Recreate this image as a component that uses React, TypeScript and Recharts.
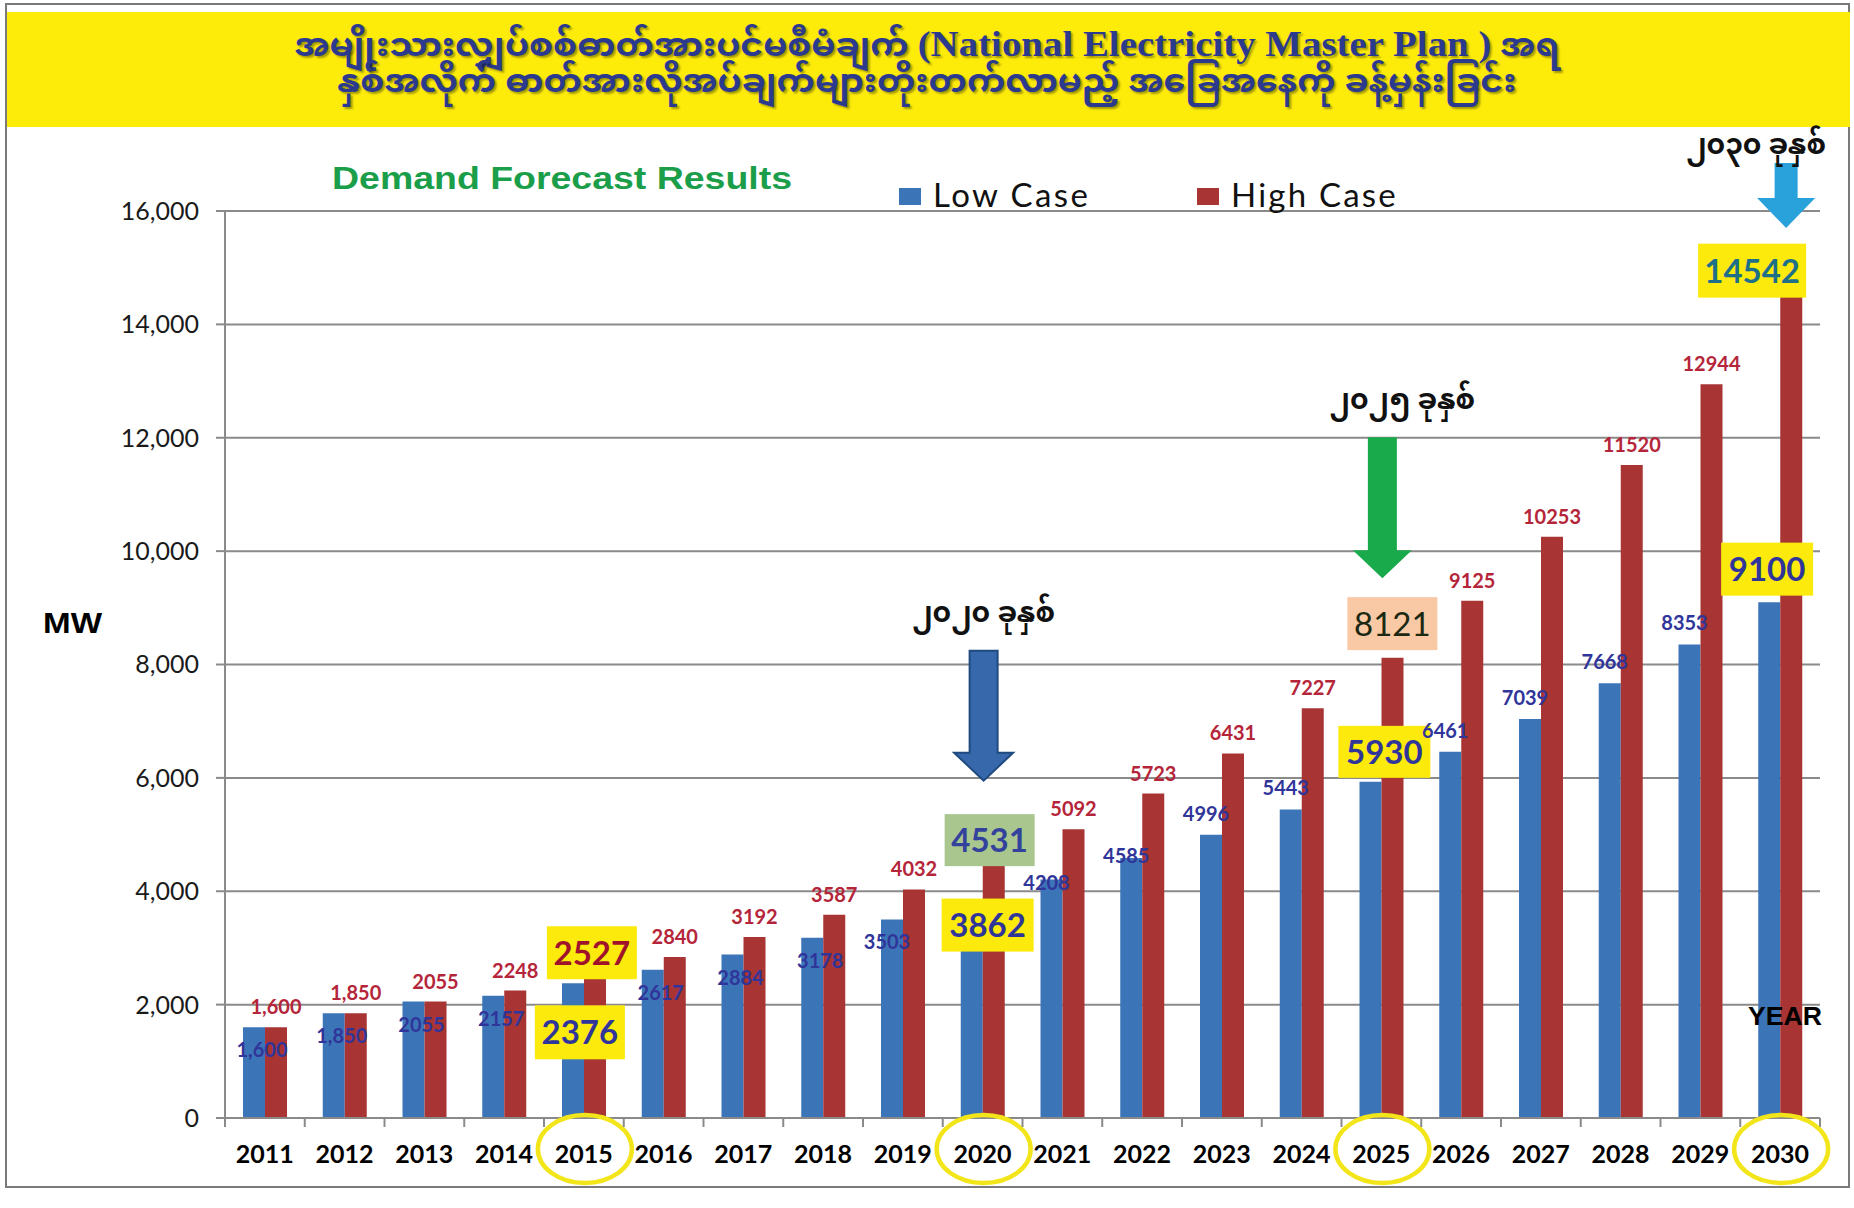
import React from 'react';
import { BarChart, Bar, XAxis, YAxis, CartesianGrid, LabelList, ReferenceDot, Legend } from 'recharts';

// ---------- data ----------
const years = ['2011', '2012', '2013', '2014', '2015', '2016', '2017', '2018', '2019', '2020',
  '2021', '2022', '2023', '2024', '2025', '2026', '2027', '2028', '2029', '2030'];
const lowCase = [1600, 1850, 2055, 2157, 2376, 2617, 2884, 3178, 3503, 3862,
  4208, 4585, 4996, 5443, 5930, 6461, 7039, 7668, 8353, 9100];
const highCase = [1600, 1850, 2055, 2248, 2527, 2840, 3192, 3587, 4032, 4531,
  5092, 5723, 6431, 7227, 8121, 9125, 10253, 11520, 12944, 14542];
const yTicks = [0, 2000, 4000, 6000, 8000, 10000, 12000, 14000, 16000];
const highlightYears = ['2015', '2020', '2025', '2030'];
const seriesNames = { low: 'Low Case', high: 'High Case' };
const titleLine1 = ['အမျိုးသားလျှပ်စစ်ဓာတ်အားပင်မစီမံချက် ', '(National Electricity Master Plan )', ' အရ'];
const titleLine2 = 'နှစ်အလိုက် ဓာတ်အားလိုအပ်ချက်များတိုးတက်လာမည့် အခြေအနေကို ခန့်မှန်းခြင်း';
const chartTitle = 'Demand Forecast Results';

const data = years.map((y, i) => ({ year: y, low: lowCase[i], high: highCase[i] }));

// ---------- style ----------
const W = 1854;
const H = 1208;
const PLOT_LEFT = 225;
const PLOT_RIGHT = 1820;
const BAND = (PLOT_RIGHT - PLOT_LEFT) / years.length;
const BLUE = '#3c74b8';
const RED = '#a83434';
const NAVY = '#30359a';
const CRIMSON = '#b5253a';
const YELLOW = '#fbea0c';
const GRID = '#8a8a8a';
const SANS = 'Lato, "Open Sans", "Liberation Sans", sans-serif';
const ARIAL = '"Liberation Sans", Arial, sans-serif';
const MYAN = '"Noto Sans Myanmar", "Noto Serif Myanmar", Padauk, "Myanmar Text", Myanmar3, "Liberation Serif", serif';
const SERIF = '"Liberation Serif", "Times New Roman", serif';

const fmt = (v: number, i: number) => (i < 2 ? v.toLocaleString('en-US') : String(v));

const callouts = [
  { year: '2015', key: 'high', bg: YELLOW, color: '#a0122a', dx: 8, dy: -22, w: 90, h: 53, weight: 'bold' },
  { year: '2015', key: 'low', bg: YELLOW, color: NAVY, dx: -4, dy: 49, w: 90, h: 54, weight: 'bold' },
  { year: '2020', key: 'high', bg: '#a9c68e', color: '#33429c', dx: 7, dy: -21, w: 90, h: 52, weight: 'bold' },
  { year: '2020', key: 'low', bg: YELLOW, color: NAVY, dx: 5, dy: 26, w: 92, h: 53, weight: 'bold' },
  { year: '2025', key: 'high', bg: '#f8c9a4', color: '#1c2812', dx: 11, dy: -34, w: 90, h: 53, weight: 'normal' },
  { year: '2025', key: 'low', bg: YELLOW, color: NAVY, dx: 3, dy: -30, w: 92, h: 52, weight: 'bold' },
  { year: '2030', key: 'high', bg: YELLOW, color: '#1d7088', dx: -28, dy: -23, w: 108, h: 54, weight: 'bold' },
  { year: '2030', key: 'low', bg: YELLOW, color: NAVY, dx: -13, dy: -33, w: 92, h: 53, weight: 'bold' },
];

const arrows = [
  { year: '2020', tip: 5950, len: 130, head: 28, shaft: 28, headW: 59, fill: '#3868ac', stroke: '#1f4a80', dx: 1, label: '၂၀၂၀ ခုနှစ်', lx: 0, ly: -169 },
  { year: '2025', tip: 9520, len: 141, head: 28, shaft: 29, headW: 59, fill: '#19aa4b', stroke: 'none', dx: 1, label: '၂၀၂၅ ခုနှစ်', lx: 20, ly: -179 },
  { year: '2030', tip: 15700, len: 65, head: 30, shaft: 23, headW: 58, fill: '#29a2dc', stroke: 'none', dx: 6, label: '၂၀၃၀ ခုနှစ်', lx: -30, ly: -84 },
];

// ---------- renderers ----------
const LowLabel = (p: any) => {
  const { x, y, width, value, index } = p;
  if (highlightYears.includes(years[index])) return null;
  const dx = index < 8 ? 8 : -5;
  const dy = index < 10 ? 23 : index === 10 ? 4 : index === 11 ? -2 : -21;
  return (
    <text x={x + width / 2 + dx} y={y + dy + 7} textAnchor="middle" fill={NAVY}
      fontFamily={SANS} fontWeight="bold" fontSize={20}>{fmt(value, index)}</text>
  );
};

const HighLabel = (p: any) => {
  const { x, y, width, value, index } = p;
  if (highlightYears.includes(years[index])) return null;
  return (
    <text x={x + width / 2} y={y - 13} textAnchor="middle" fill={CRIMSON}
      fontFamily={SANS} fontWeight="bold" fontSize={20}>{fmt(value, index)}</text>
  );
};

const XTick = (p: any) => {
  const { x, y, payload, index } = p;
  const hl = highlightYears.includes(payload.value);
  return (
    <g>
      <line x1={x - BAND / 2} x2={x - BAND / 2} y1={y} y2={y + 9} stroke={GRID} strokeWidth={2} />
      {index === years.length - 1 && (
        <line x1={x + BAND / 2} x2={x + BAND / 2} y1={y} y2={y + 9} stroke={GRID} strokeWidth={2} />
      )}
      <text x={x} y={y + 45} textAnchor="middle" fill="#000" fontFamily={SANS} fontWeight="bold" fontSize={25}>
        {payload.value}
      </text>
      {hl && <ellipse cx={x + 1} cy={y + 31} rx={47} ry={34} fill="none" stroke="#f2e51a" strokeWidth={4.5} />}
    </g>
  );
};

const makeCallout = (c: any, text: string) => (p: any) => {
  const { cx, cy } = p;
  const bx = cx + c.dx;
  const by = cy + c.dy;
  return (
    <g>
      <rect x={bx - c.w / 2} y={by - c.h / 2} width={c.w} height={c.h} fill={c.bg} />
      <text x={bx} y={by + 12} textAnchor="middle" fill={c.color} fontFamily={SANS}
        fontWeight={c.weight} fontSize={33}>{text}</text>
    </g>
  );
};

const makeArrow = (a: any) => (p: any) => {
  const { cx, cy } = p;
  const x = cx + a.dx;
  const tip = cy;
  const base = tip - a.head;
  const top = tip - a.len;
  const pts = [
    [x - a.shaft / 2, top], [x + a.shaft / 2, top], [x + a.shaft / 2, base], [x + a.headW / 2, base],
    [x, tip], [x - a.headW / 2, base], [x - a.shaft / 2, base],
  ].map((q) => q.join(',')).join(' ');
  return (
    <g>
      <polygon points={pts} fill={a.fill} stroke={a.stroke} strokeWidth={2} />
      <text x={x + a.lx} y={tip + a.ly + 10} textAnchor="middle" fill="#111" fontFamily={MYAN}
        fontWeight="bold" fontSize={28}>{a.label}</text>
    </g>
  );
};

const legendOrder = [seriesNames.low, seriesNames.high];
const LegendContent = (p: any) => {
  const raw = p.payload || [];
  const items = legendOrder.map((n) => raw.find((it: any) => it.value === n)).filter(Boolean);
  const pos = [{ sx: 899, tx: 933, ls: 2.4 }, { sx: 1197, tx: 1231, ls: 2.2 }];
  return (
    <svg width={W} height={80} style={{ display: 'block', overflow: 'visible' }}>
      {items.map((it: any, i: number) => (
        <g key={i}>
          <rect x={pos[i].sx} y={28} width={22} height={17} fill={it.color} />
          <text x={pos[i].tx} y={47} fill="#111" fontFamily={SANS} fontSize={33}
            letterSpacing={pos[i].ls}>{it.value}</text>
        </g>
      ))}
    </svg>
  );
};

const titleStyle: React.CSSProperties = {
  position: 'absolute', left: 0, width: W, height: 40, lineHeight: '40px',
  textAlign: 'center', fontFamily: MYAN, fontWeight: 'bold', fontSize: 32, color: '#2c3a8e',
  textShadow: '2px 2px 2px rgba(0,0,0,0.35)', whiteSpace: 'nowrap',
  transform: 'scaleX(1.08)', transformOrigin: '50% 50%',
};

export default function App() {
  return (
    <div style={{ position: 'absolute', left: 0, top: 0, width: W, height: H, background: '#fff', overflow: 'hidden' }}>
      <div style={{ position: 'absolute', left: 5, top: 3, width: 1845, height: 1185, border: '2px solid #7a7a7a', boxSizing: 'border-box' }} />
      <div style={{ position: 'absolute', left: 7, top: 12, width: 1843, height: 115, background: '#fdec0a' }} />
      <div style={{ ...titleStyle, top: 24 }}>
        {titleLine1[0]}
        <span style={{ fontFamily: SERIF, fontSize: 36, lineHeight: '40px' }}>{titleLine1[1]}</span>
        {titleLine1[2]}
      </div>
      <div style={{ ...titleStyle, top: 65 }}>{titleLine2}</div>
      <div style={{ position: 'absolute', left: 0, top: 0 }}>
        <BarChart width={W} height={H} data={data} margin={{ top: 211, right: W - PLOT_RIGHT, bottom: 0, left: 0 }}
          barGap={0} barSize={22}>
          <CartesianGrid vertical={false} stroke={GRID} strokeWidth={2} />
          <XAxis dataKey="year" height={90} interval={0} tickLine={false} tickSize={0} tickMargin={0}
            axisLine={{ stroke: GRID, strokeWidth: 2 }} tick={<XTick />} />
          <YAxis width={PLOT_LEFT} domain={[0, 16000]} ticks={yTicks} tickSize={9} tickMargin={17}
            axisLine={{ stroke: GRID, strokeWidth: 2 }} tickLine={{ stroke: GRID, strokeWidth: 2 }}
            tick={{ fill: '#1a1a1a', fontSize: 25, fontFamily: SANS }}
            tickFormatter={(v: number) => v.toLocaleString('en-US')} />
          <Legend layout="vertical" align="center" verticalAlign="middle" content={<LegendContent />}
            wrapperStyle={{ left: 0, top: 160, width: W, height: 80 }} />
          <Bar dataKey="low" name={seriesNames.low} fill={BLUE} isAnimationActive={false}>
            <LabelList dataKey="low" content={<LowLabel />} />
          </Bar>
          <Bar dataKey="high" name={seriesNames.high} fill={RED} isAnimationActive={false}>
            <LabelList dataKey="high" content={<HighLabel />} />
          </Bar>
          {arrows.map((a) => (
            <ReferenceDot key={'a' + a.year} x={a.year} y={a.tip} r={0} ifOverflow="visible" shape={makeArrow(a)} />
          ))}
          {callouts.map((c) => {
            const i = years.indexOf(c.year);
            const v = c.key === 'high' ? highCase[i] : lowCase[i];
            return (
              <ReferenceDot key={c.year + c.key} x={c.year} y={v} r={0} ifOverflow="visible"
                shape={makeCallout(c, String(v))} />
            );
          })}
        </BarChart>
      </div>
      <svg width={W} height={H} style={{ position: 'absolute', left: 0, top: 0, pointerEvents: 'none' }}>
        <text x={332} y={189} fill="#1a9e4a" fontFamily={ARIAL} fontWeight="bold" fontSize={31.5}
          textLength={460} lengthAdjust="spacingAndGlyphs">{chartTitle}</text>
        <text x={43} y={633} fill="#000" fontFamily={ARIAL} fontWeight="bold" fontSize={30}
          textLength={59} lengthAdjust="spacingAndGlyphs">MW</text>
        <text x={1748} y={1025} fill="#000" fontFamily={ARIAL} fontWeight="bold" fontSize={25}
          textLength={74} lengthAdjust="spacingAndGlyphs">YEAR</text>
      </svg>
    </div>
  );
}
